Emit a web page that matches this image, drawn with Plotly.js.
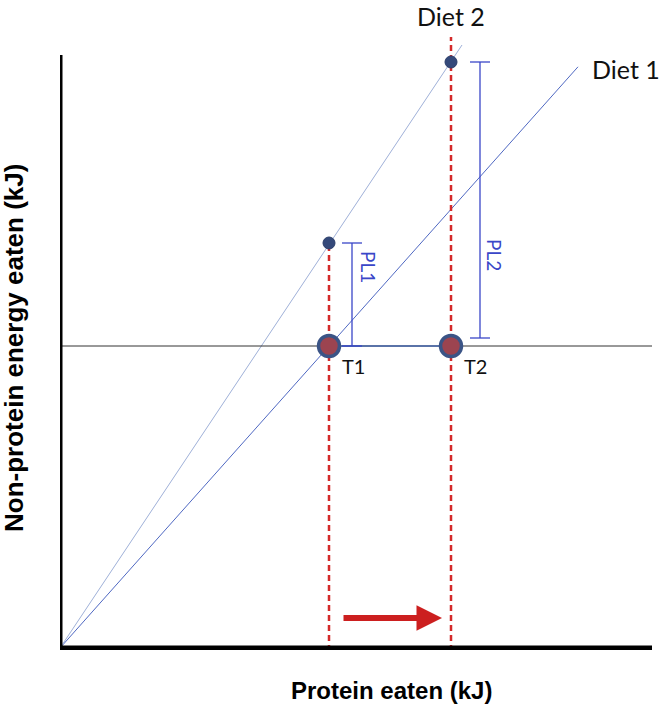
<!DOCTYPE html>
<html>
<head>
<meta charset="utf-8">
<script src="https://cdn.plot.ly/plotly-3.0.1.min.js"></script>
<style>
  body { margin: 0; background: #fff; }
  #chart { width: 664px; height: 705px; }
</style>
</head>
<body>
<div id="chart"></div>
<script>
// geometry of the diagram, in arbitrary kJ units
var dietNames = ["Diet 1", "Diet 2"];
var dietSlopes = [1.122, 1.5];
var dietEndX = [518, 402];
var treatNames = ["T1", "T2"];
var treatX = [269, 391];
var targetY = 302;
var plNames = ["PL1", "PL2"];
var plX = [292, 420];
var plBottom = [302, 310];
var plTop = [405, 586];
var axisMaxX = 592;
var axisMaxY = 593;
var arrowFrom = 282, arrowTo = 382, arrowY = 30;
var xTitle = "Protein eaten (kJ)";
var yTitle = "Non-protein energy eaten (kJ)";

var CHART = document.getElementById("chart");
var data = [];

// diet lines from the origin
var dietColors = ["#4f68c2", "#9fb0d8"];
for (var i = 0; i < dietNames.length; i++) {
    data.push({
        x: [0, dietEndX[i]],
        y: [0, dietEndX[i] * dietSlopes[i]],
        mode: "lines", type: "scatter",
        line: { color: dietColors[i], width: 1 },
        hoverinfo: "skip"
    });
}

// intake target line
data.push({
    x: [0, axisMaxX], y: [targetY, targetY],
    mode: "lines", type: "scatter",
    line: { color: "#333333", width: 1 }, hoverinfo: "skip"
});
data.push({
    x: [treatX[0], treatX[1]], y: [targetY, targetY],
    mode: "lines", type: "scatter",
    line: { color: "#5a73a8", width: 2 }, hoverinfo: "skip"
});

// red dashed treatment lines
var dashTop = [plTop[0], 611];
for (var i = 0; i < treatX.length; i++) {
    data.push({
        x: [treatX[i], treatX[i]], y: [-3, dashTop[i]],
        mode: "lines", type: "scatter",
        line: { color: "#d42a2a", width: 2.5, dash: "6px,4px" }, hoverinfo: "skip"
    });
}

// protein leverage brackets
for (var i = 0; i < plX.length; i++) {
    data.push({
        x: [plX[i] - 10, plX[i] + 10, null, plX[i], plX[i], null, plX[i] - 10, plX[i] + 10],
        y: [plTop[i], plTop[i], null, plTop[i], plBottom[i], null, plBottom[i], plBottom[i]],
        mode: "lines", type: "scatter",
        line: { color: "#3a46c8", width: 1.3 }, hoverinfo: "skip"
    });
}

// intake points on diet 2 line
data.push({
    x: treatX, y: [plTop[0], plTop[1]],
    mode: "markers", type: "scatter",
    marker: { size: 12, color: "#34497a", line: { color: "#2a3d6a", width: 1 } },
    hoverinfo: "skip"
});
// intake target points
data.push({
    x: treatX, y: [targetY, targetY],
    mode: "markers", type: "scatter",
    marker: { size: 21, color: "#9c4450", line: { color: "#3b5486", width: 3.5 } },
    hoverinfo: "skip"
});

var fam = "Lato, 'Open Sans', sans-serif";
var labelFont = { family: fam, size: 25, color: "#111" };
var tFont = { family: fam, size: 20, color: "#111" };
var plFont = { family: fam, size: 19, color: "#3a46c8" };
var titleFont = { family: "'Liberation Sans', Arial, sans-serif", size: 24, color: "#000" };
var annotations = [
    { x: treatX[1], y: 618, text: dietNames[1], yanchor: "bottom", yshift: -3, xanchor: "center" },
    { x: dietEndX[0] + 12, y: dietEndX[0] * dietSlopes[0], text: dietNames[0], xanchor: "left", yanchor: "middle", yshift: -2 },
    { x: treatX[0] + 11, y: targetY, text: treatNames[0], xanchor: "left", yanchor: "top", yshift: -6, font: tFont },
    { x: treatX[1] + 11, y: targetY, text: treatNames[1], xanchor: "left", yanchor: "top", yshift: -6, font: tFont },
    { x: plX[0] + 17, y: 381, text: plNames[0], textangle: 90, xanchor: "center", yanchor: "middle", font: plFont },
    { x: plX[1] + 15, y: 393, text: plNames[1], textangle: 90, xanchor: "center", yanchor: "middle", font: plFont },
    { x: arrowTo, y: arrowY, ax: arrowFrom, ay: arrowY, axref: "x", ayref: "y", text: "",
      showarrow: true, arrowhead: 2, arrowsize: 0.85, arrowwidth: 6, arrowcolor: "#cc1f1f" },
    // axis titles
    { x: 331, y: 0, yref: "paper", yshift: -40, text: "<b>" + xTitle + "</b>",
      xanchor: "center", yanchor: "middle", font: titleFont },
    { x: 0, xref: "paper", xshift: -46, y: 300, text: "<b>" + yTitle + "</b>", textangle: -90,
      xanchor: "center", yanchor: "middle", borderpad: 0,
      font: { family: titleFont.family, size: 26, color: "#000" } }
];
annotations.forEach(function (a) {
    a.xref = a.xref || "x"; a.yref = a.yref || "y";
    if (a.showarrow === undefined) a.showarrow = false;
    if (!a.font) a.font = labelFont;
});

var shapes = [
    { type: "line", xref: "x", yref: "y", x0: 0, y0: 0, x1: 0, y1: axisMaxY, line: { color: "#000", width: 5 } },
    { type: "line", xref: "x", yref: "y", x0: -2, y0: 0, x1: axisMaxX, y1: 0, line: { color: "#000", width: 5 } }
];

var layout = {
    width: 664, height: 705,
    margin: { l: 60, r: 12, t: 30, b: 55 },
    showlegend: false,
    paper_bgcolor: "#fff", plot_bgcolor: "#fff",
    xaxis: { range: [0, axisMaxX], showgrid: false, zeroline: false, showticklabels: false, ticks: "" },
    yaxis: { range: [-2, 618], showgrid: false, zeroline: false, showticklabels: false, ticks: "" },
    annotations: annotations,
    shapes: shapes
};

Plotly.newPlot(CHART, data, layout, { staticPlot: true });
</script>
</body>
</html>
